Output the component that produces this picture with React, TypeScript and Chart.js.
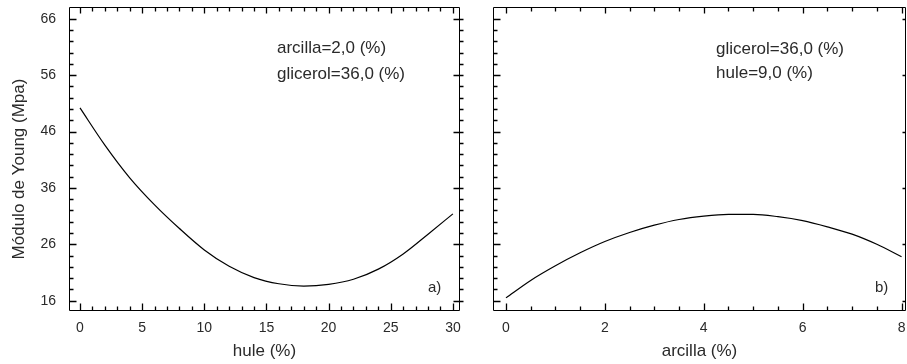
import React, { useEffect, useRef } from "react";
import { Chart, registerables } from "chart.js";

Chart.register(...registerables);

// ---- data ----
const huleX = [0, 2, 4, 6, 8, 10, 12, 14, 16, 18, 20, 22, 24, 26, 28, 30];
const youngA = [50.2, 43.6, 37.8, 33.0, 28.8, 25.0, 22.1, 20.1, 19.0, 18.6, 18.9, 19.8, 21.6, 24.3, 27.8, 31.4];
const arcillaX = [0, 0.5, 1, 1.5, 2, 2.5, 3, 3.5, 4, 4.5, 5, 5.5, 6, 6.5, 7, 7.5, 8];
const youngB = [16.5, 19.6, 22.2, 24.5, 26.5, 28.1, 29.4, 30.4, 31.0, 31.3, 31.3, 30.9, 30.2, 29.1, 27.8, 26.0, 23.8];
const yTicks = [16, 26, 36, 46, 56, 66];
const xTicksA = [0, 5, 10, 15, 20, 25, 30];
const xTicksB = [0, 2, 4, 6, 8];
const notesA = ["arcilla=2,0 (%)", "glicerol=36,0 (%)"];
const notesB = ["glicerol=36,0 (%)", "hule=9,0 (%)"];
const panelA = "a)";
const panelB = "b)";
const yTitle = "Módulo de Young (Mpa)";
const xTitleA = "hule (%)";
const xTitleB = "arcilla (%)";

const FONT = "'Liberation Sans', Arial, Helvetica, sans-serif";
const TEXT = "#2a2a2a";

type FrameOpts = {
  xMajor: number[];
  xMinorStep: number;
  yMinorStep: number;
  leftRightBorderOut: boolean;
  notes: string[];
  notesX: number;
  notesY: number[];
  panel: string;
  panelX: number;
  panelY: number;
  drawYTitle: boolean;
};

function makeFrame(o: FrameOpts) {
  return {
    id: "frame",
    afterDraw(chart: any) {
      const { ctx, chartArea: a, scales } = chart;
      const xs = scales.x;
      const ys = scales.y;
      const L = Math.round(a.left) + 0.5;
      const R = Math.round(a.right) - 0.5;
      const T = Math.round(a.top) + 0.5;
      const B = Math.round(a.bottom) - 0.5;
      ctx.save();
      ctx.strokeStyle = "#000";
      ctx.lineWidth = 1;
      ctx.beginPath();
      ctx.moveTo(L, T);
      ctx.lineTo(R, T);
      ctx.lineTo(R, B);
      ctx.lineTo(L, B);
      ctx.closePath();
      ctx.stroke();

      ctx.lineWidth = 1.3;
      // x ticks
      const x0 = o.xMajor[0];
      const x1 = o.xMajor[o.xMajor.length - 1];
      const nx = Math.round((x1 - x0) / o.xMinorStep);
      const majorStepX = o.xMajor[1] - o.xMajor[0];
      ctx.beginPath();
      for (let i = 0; i <= nx; i++) {
        const v = x0 + i * o.xMinorStep;
        const major = Math.abs((v - x0) / majorStepX - Math.round((v - x0) / majorStepX)) < 1e-6;
        const px = Math.round(xs.getPixelForValue(v)) + 0.5;
        const len = major ? 7 : 4;
        ctx.moveTo(px, B);
        ctx.lineTo(px, B - len);
        ctx.moveTo(px, T);
        ctx.lineTo(px, T + (major ? 6 : 4));
      }
      // y ticks
      const y0 = yTicks[0];
      const y1 = yTicks[yTicks.length - 1];
      const ny = Math.round((y1 - y0) / o.yMinorStep);
      const majorStepY = yTicks[1] - yTicks[0];
      for (let i = 0; i <= ny; i++) {
        const v = y0 + i * o.yMinorStep;
        const major = Math.abs((v - y0) / majorStepY - Math.round((v - y0) / majorStepY)) < 1e-6;
        const py = Math.round(ys.getPixelForValue(v)) + 0.5;
        ctx.moveTo(L, py);
        ctx.lineTo(L + (major ? 7 : 4), py);
        if (o.leftRightBorderOut) {
          ctx.moveTo(R, py);
          ctx.lineTo(R + 4, py);
          if (major) {
            ctx.moveTo(R, py);
            ctx.lineTo(R - 6, py);
          }
        } else if (major) {
          ctx.moveTo(R, py);
          ctx.lineTo(R - 3, py);
        }
      }
      ctx.stroke();

      // notes
      ctx.fillStyle = TEXT;
      ctx.font = `17px ${FONT}`;
      ctx.textAlign = "left";
      ctx.textBaseline = "alphabetic";
      o.notes.forEach((t, i) => ctx.fillText(t, o.notesX, o.notesY[i]));
      ctx.font = `15px ${FONT}`;
      ctx.fillText(o.panel, o.panelX, o.panelY);

      if (o.drawYTitle) {
        ctx.translate(19, 169);
        ctx.rotate(-Math.PI / 2);
        ctx.font = `17px ${FONT}`;
        ctx.textAlign = "center";
        ctx.textBaseline = "middle";
        ctx.fillText(yTitle, 0, 0);
      }
      ctx.restore();
    },
  };
}

function makeConfig(
  xs: number[],
  ys: number[],
  xMin: number,
  xMax: number,
  xTicks: number[],
  xTitle: string,
  yWidth: number,
  showYLabels: boolean,
  pad: { left: number; right: number; top: number },
  frame: any
): any {
  return {
    type: "line",
    data: {
      datasets: [
        {
          data: xs.map((x, i) => ({ x, y: ys[i] })),
          borderColor: "#000",
          borderWidth: 1.2,
          pointRadius: 0,
          cubicInterpolationMode: "monotone",
          fill: false,
        },
      ],
    },
    options: {
      animation: false,
      responsive: false,
      maintainAspectRatio: false,
      events: [],
      layout: { padding: { left: pad.left, right: pad.right, top: pad.top, bottom: 0 } },
      plugins: { legend: { display: false }, tooltip: { enabled: false }, title: { display: false } },
      scales: {
        x: {
          type: "linear",
          min: xMin,
          max: xMax,
          afterBuildTicks: (s: any) => {
            s.ticks = xTicks.map((v) => ({ value: v }));
          },
          afterFit: (s: any) => {
            s.height = 53;
            s.paddingLeft = 0;
            s.paddingRight = 0;
            s.paddingTop = 0;
            s.paddingBottom = 0;
          },
          grid: { display: false, drawTicks: false },
          border: { display: false },
          ticks: {
            padding: 9,
            maxRotation: 0,
            autoSkip: false,
            color: TEXT,
            font: { family: FONT, size: 14 },
          },
          title: {
            display: true,
            text: xTitle,
            color: TEXT,
            font: { family: FONT, size: 17 },
            padding: { top: 0, bottom: 2 },
          },
        },
        y: {
          type: "linear",
          min: 14.17,
          max: 68.1,
          afterBuildTicks: (s: any) => {
            s.ticks = yTicks.map((v) => ({ value: v }));
          },
          afterFit: (s: any) => {
            s.width = yWidth;
            s.paddingLeft = 0;
            s.paddingRight = 0;
            s.paddingTop = 0;
            s.paddingBottom = 0;
          },
          grid: { display: false, drawTicks: false },
          border: { display: false },
          ticks: {
            display: showYLabels,
            padding: 13,
            autoSkip: false,
            color: TEXT,
            font: { family: FONT, size: 14 },
          },
          title: { display: false },
        },
      },
    },
    plugins: [frame],
  };
}

export default function App() {
  const refA = useRef<HTMLCanvasElement>(null);
  const refB = useRef<HTMLCanvasElement>(null);

  useEffect(() => {
    const frameA = makeFrame({
      xMajor: xTicksA,
      xMinorStep: 1,
      yMinorStep: 2,
      leftRightBorderOut: true,
      notes: notesA,
      notesX: 277,
      notesY: [53, 79],
      panel: panelA,
      panelX: 428,
      panelY: 292,
      drawYTitle: true,
    });
    const frameB = makeFrame({
      xMajor: xTicksB,
      xMinorStep: 0.5,
      yMinorStep: 2,
      leftRightBorderOut: false,
      notes: notesB,
      notesX: 246,
      notesY: [54, 78],
      panel: panelB,
      panelX: 405,
      panelY: 292,
      drawYTitle: false,
    });
    const a = new Chart(
      refA.current as HTMLCanvasElement,
      makeConfig(huleX, youngA, -0.885, 30.57, xTicksA, xTitleA, 69, true, { left: 0, right: 10, top: 7 }, frameA)
    );
    const b = new Chart(
      refB.current as HTMLCanvasElement,
      makeConfig(arcillaX, youngB, -0.262, 8.09, xTicksB, xTitleB, 23, false, { left: 0, right: 1, top: 7 }, frameB)
    );
    return () => {
      a.destroy();
      b.destroy();
    };
  }, []);

  return (
    <div style={{ position: "fixed", left: 0, top: 0, width: 907, height: 364, background: "#fff" }}>
      <canvas ref={refA} width={470} height={364} style={{ position: "absolute", left: 0, top: 0, width: 470, height: 364 }} />
      <canvas ref={refB} width={437} height={364} style={{ position: "absolute", left: 470, top: 0, width: 437, height: 364 }} />
    </div>
  );
}
